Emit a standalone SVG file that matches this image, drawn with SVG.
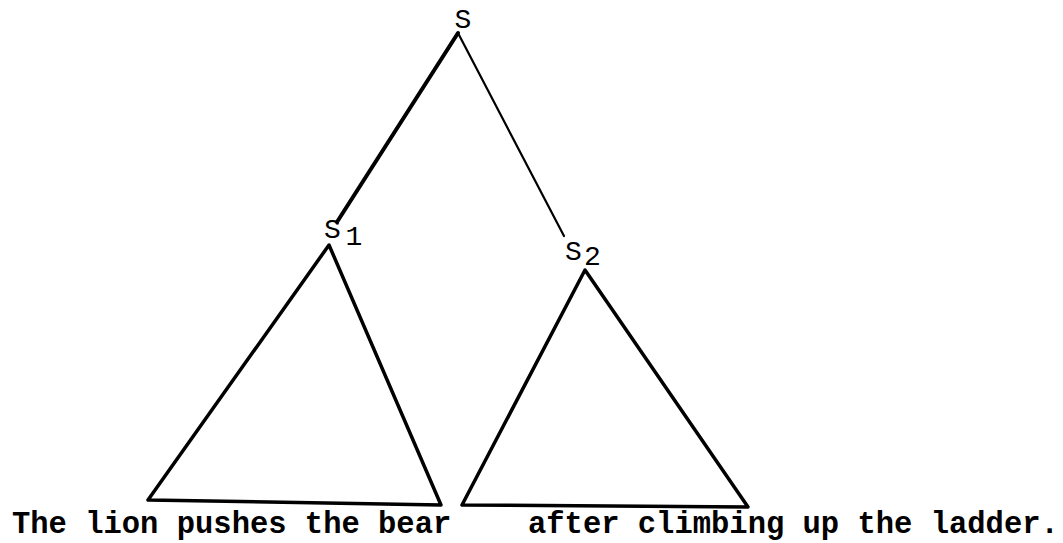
<svg xmlns="http://www.w3.org/2000/svg" width="1063" height="543" viewBox="0 0 1063 543">
<style>
.lbl{font-family:"Liberation Mono","Courier New",monospace;font-size:28px;fill:#000;text-anchor:middle}
.sent{font-family:"Liberation Mono","Courier New",monospace;font-size:30.5px;font-weight:bold;fill:#000}
.e{stroke:#000;fill:none;stroke-linecap:round;stroke-linejoin:round}
</style>
<rect width="1063" height="543" fill="#fff"/>
<g id="connectors">
<line class="e" x1="458" y1="33" x2="337" y2="222" stroke-width="4"/>
<line class="e" x1="458" y1="33" x2="564" y2="236" stroke-width="2.2"/>
</g>
<g id="S">
<text class="lbl" x="463" y="28">S</text>
</g>
<g id="S1">
<text class="lbl" x="332.5" y="238">S</text>
<text class="lbl" x="354" y="245">1</text>
<path class="e" d="M329,245 L148,500 L441,505 Z" stroke-width="3.5"/>
</g>
<g id="S2">
<text class="lbl" x="573.5" y="260">S</text>
<text class="lbl" x="592.5" y="265">2</text>
<path class="e" d="M585,270 L462,505 L748,507 Z" stroke-width="3.5"/>
</g>
<g id="sentence">
<text class="sent" x="12" y="533">The lion pushes the bear</text>
<text class="sent" x="528" y="533">after climbing up the ladder.</text>
</g>
</svg>
